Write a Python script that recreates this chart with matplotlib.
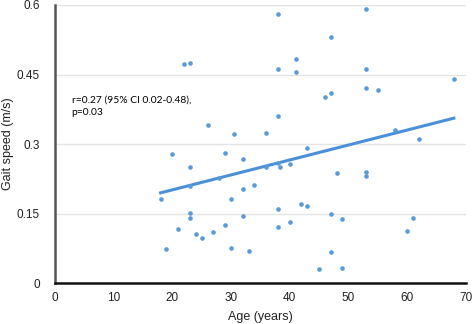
import numpy as np
import matplotlib
matplotlib.use("Agg")
import matplotlib.pyplot as plt

# age (years) and gait speed (m/s)
age = [18, 19, 20, 21, 22, 23, 23, 23, 23, 23, 24, 25, 26, 27, 28, 29, 29,
       30, 30, 30.5, 32, 32, 32, 33, 34, 36, 36, 38, 38, 38, 38, 38.4, 38,
       38, 40, 40, 41, 41, 42, 43, 43, 45, 46, 47, 47, 47, 47, 48, 49, 49,
       53, 53, 53, 53, 53, 55, 58, 60, 61, 62, 68]
speed = [0.182, 0.074, 0.278, 0.116, 0.472, 0.474, 0.251, 0.210, 0.151, 0.140,
         0.107, 0.098, 0.341, 0.111, 0.228, 0.281, 0.125, 0.182, 0.077, 0.321,
         0.267, 0.204, 0.145, 0.070, 0.213, 0.323, 0.251, 0.581, 0.461, 0.361,
         0.260, 0.251, 0.160, 0.121, 0.257, 0.133, 0.484, 0.456, 0.170, 0.291,
         0.167, 0.031, 0.401, 0.531, 0.411, 0.150, 0.067, 0.238, 0.138, 0.033,
         0.591, 0.461, 0.421, 0.240, 0.231, 0.417, 0.331, 0.112, 0.140, 0.311,
         0.441]

# trend line end points as drawn in the figure
trend_x = [18, 68]
trend_y = [0.195, 0.356]

x_ticks = [0, 10, 20, 30, 40, 50, 60, 70]
y_ticks = [0, 0.15, 0.3, 0.45, 0.6]
y_labels = ["0", "0.15", "0.3", "0.45", "0.6"]

plt.rcParams['font.family'] = ['Liberation Sans', 'DejaVu Sans']

fig = plt.figure(figsize=(4.72, 3.24), dpi=100)
ax = fig.add_axes([0.1165, 0.1256, 0.870, 0.859])

ax.scatter(age, speed, s=11, color='#5b9bd5', zorder=3, linewidths=0)
ax.plot(trend_x, trend_y, color='#4a90d9', lw=2.2, zorder=2)

ax.set_xlim(0, 70)
ax.set_ylim(0, 0.6)
ax.set_xticks(x_ticks)
ax.set_yticks(y_ticks)
ax.set_yticklabels(y_labels)
ax.tick_params(length=0, labelsize=8.5, colors='#222222')
ax.tick_params(axis='y', pad=11)
ax.tick_params(axis='x', pad=6)

ax.grid(axis='y', color='#e4e4e4', lw=1)
ax.set_axisbelow(True)
for s in ['top', 'right']:
    ax.spines[s].set_visible(False)
ax.spines['left'].set_color('#555555')
ax.spines['left'].set_linewidth(1.8)
ax.spines['bottom'].set_color('#111111')
ax.spines['bottom'].set_linewidth(1.8)

ax.set_xlabel('Age (years)', fontsize=9, labelpad=5, color='#222222')
ax.set_ylabel('Gait speed (m/s)', fontsize=9, color='#222222')
ax.yaxis.set_label_coords(-0.099, 0.5)

ax.text(2.85, 0.405, 'r=0.27 (95% CI 0.02-0.48),\np=0.03', fontsize=7.4,
        va='top', ha='left', linespacing=1.45, family=['Lato', 'DejaVu Sans'])

fig.savefig('out.png', dpi=100)
